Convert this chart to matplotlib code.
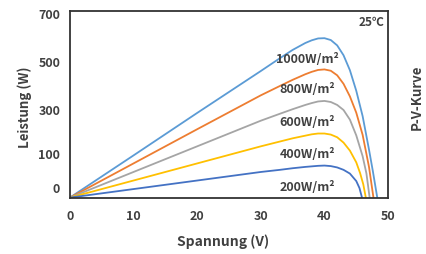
import matplotlib
matplotlib.use("Agg")
import matplotlib.pyplot as plt

plt.rcParams['font.family'] = ['Noto Sans CJK SC', 'DejaVu Sans']

# Data
v_1000 = [0, 10, 20, 30, 33, 35, 37, 38, 39, 40, 41, 42, 43, 44, 45, 46, 47, 47.6, 48.3]
p_1000 = [0, 158, 317, 474, 522, 553, 579, 589, 596, 597, 590, 570, 533, 477, 400, 305, 180, 100, 0]

v_800 = [0, 10, 20, 30, 33, 35, 37, 38, 39, 40, 41, 42, 43, 44, 45, 46, 47, 47.7]
p_800 = [0, 128, 256, 383, 418, 441, 462, 471, 478, 480, 475, 458, 426, 379, 318, 235, 115, 0]

v_600 = [0, 10, 20, 30, 33, 35, 37, 38, 39, 40, 41, 42, 43, 44, 45, 46, 46.6, 47.1]
p_600 = [0, 96, 192, 288, 314, 331, 347, 354, 360, 362, 358, 347, 328, 292, 233, 155, 90, 0]

v_400 = [0, 10, 20, 30, 33, 35, 37, 38, 39, 40, 41, 42, 43, 44, 45, 45.6, 46.1, 46.5]
p_400 = [0, 64, 128, 192, 210, 222, 232, 237, 240, 240, 236, 226, 206, 176, 132, 92, 50, 0]

v_200 = [0, 10, 20, 30, 33, 35, 37, 38, 39, 40, 41, 42, 43, 44, 45, 45.5, 45.9]
p_200 = [0, 32, 64, 96, 104, 110, 115, 117, 119, 120, 118, 113, 104, 90, 62, 36, 0]

series_labels = ["1000W/m²", "800W/m²", "600W/m²", "400W/m²", "200W/m²"]
label_y = [516, 403, 280, 160, 39]

x_ticks = [0, 10, 20, 30, 40, 50]
y_tick_pos = [36, 163, 328, 509, 688]
y_tick_labels = ["0", "100", "300", "500", "700"]

colors = ["#5B9BD5", "#ED7D31", "#A5A5A5", "#FFC000", "#4472C4"]
txt = "#404040"

fig = plt.figure(figsize=(4.26, 2.54), dpi=100)
ax = fig.add_axes([0.164, 0.222, 0.747, 0.736])

data = [(v_1000, p_1000), (v_800, p_800), (v_600, p_600), (v_400, p_400), (v_200, p_200)]
for (v, p), c in zip(data, colors):
    ax.plot(v, p, color=c, lw=1.3, solid_joinstyle='round')

for lab, yy in zip(series_labels, label_y):
    ax.text(37.3, yy, lab, ha='center', va='center', fontsize=9,
            fontweight='bold', color=txt)

ax.text(47.4, 655, "25℃", ha='center', va='center', fontsize=8.5,
        fontweight='bold', color=txt)

ax.set_xlim(0, 50)
ax.set_ylim(0, 700)
ax.set_xticks(x_ticks)
ax.set_yticks(y_tick_pos)
ax.set_yticklabels(y_tick_labels)
ax.tick_params(length=0, labelsize=9, colors=txt, pad=7)
for lab in ax.get_xticklabels() + ax.get_yticklabels():
    lab.set_fontweight('bold')
ax.tick_params(axis='x', pad=9)

for s in ax.spines.values():
    s.set_color("#333333")
    s.set_linewidth(1.3)

fig.text(223 / 426, 1 - 241.7 / 254, "Spannung (V)", ha='center', va='center',
         fontsize=10, fontweight='bold', color=txt)
fig.text(25 / 426, 1 - 107 / 254, "Leistung (W)", ha='center', va='center',
         rotation=90, fontsize=9.5, fontweight='bold', color=txt)
fig.text(416.7 / 426, 1 - 97 / 254, "P-V-Kurve", ha='center', va='center',
         rotation=90, fontsize=9.5, fontweight='bold', color=txt)

fig.savefig("out.png", dpi=100)
